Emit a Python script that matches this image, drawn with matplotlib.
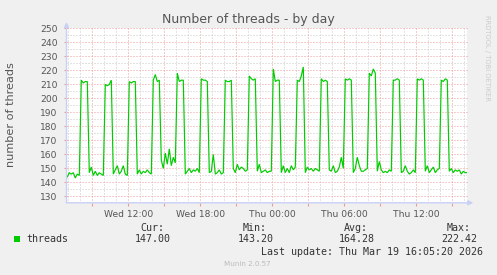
import numpy as np
import matplotlib
matplotlib.use("Agg")
import matplotlib.pyplot as plt
from matplotlib.patches import Rectangle

# ---------------- data ----------------
title = "Number of threads - by day"
y_label = "number of threads"
series_name = "threads"
series_color = "#00CC00"

start_hour = 6 + 55 / 60          # Wed 06:55, hours since Wed 00:00
step_hours = 10 / 60              # 10 minute samples

threads = [
    144, 147, 146, 147, 143.2, 146, 145,
    213, 211, 212, 212,
    147, 151, 145, 148, 145, 147, 146, 145,
    210, 209, 210, 213,
    146, 149, 152, 146, 148, 152, 146, 145,
    212, 211, 212, 212,
    146, 149, 146, 148, 147, 149, 147, 146,
    213, 217, 212, 213,
    156, 150, 161, 153, 164, 152, 158, 154,
    218, 212, 213, 213,
    146, 148, 150, 147, 149, 148, 150, 147,
    214, 213, 213, 212,
    147, 148, 160, 146, 147, 149, 146, 147,
    213, 212, 212, 213,
    150, 147, 153, 149, 151, 150, 148, 149,
    216, 214, 213, 214,
    148, 153, 147, 148, 149, 147, 148, 148,
    221, 212, 213, 213,
    147, 152, 147, 150, 147, 152, 149, 151,
    213, 212, 216, 222.42,
    147, 151, 149, 150, 148, 150, 149, 148,
    214, 212, 213, 212,
    149, 148, 152, 147, 148, 151, 158, 150,
    214, 213, 214, 213,
    147, 150, 158, 152, 148, 148, 149, 150,
    218, 216, 221, 218,
    148, 155, 149, 147, 148, 147, 149, 148,
    213, 213, 214, 213,
    147, 148, 152, 148, 146, 147, 149, 147,
    214, 213, 214, 213,
    148, 152, 147, 149, 151, 147, 149, 150,
    213, 212, 214, 213,
    148, 150, 147, 149, 148, 149, 146, 148, 147, 147,
]

x_label_hours = [12, 18, 24, 30, 36]
x_labels = ["Wed 12:00", "Wed 18:00", "Thu 00:00", "Thu 06:00", "Thu 12:00"]
y_ticks = [130, 140, 150, 160, 170, 180, 190, 200, 210, 220, 230, 240, 250]

stat_headers = ["Cur:", "Min:", "Avg:", "Max:"]
stat_values = ["147.00", "143.20", "164.28", "222.42"]
last_update = "Last update: Thu Mar 19 16:05:20 2026"
footer = "Munin 2.0.57"
side_text = "RRDTOOL / TOBI OETIKER"

# ---------------- layout ----------------
W, H = 497, 275
BG = "#F0F0F0"
FONT_C = "#555555"
AXIS_C = "#C8D0F4"
MINOR_C = "#C9C9C9"
MAJOR_C = "#EE9A9A"

fig = plt.figure(figsize=(W / 100, H / 100), dpi=100, facecolor=BG)
L, R, T, B = 66.5, 467.3, 28.3, 202.8
ax = fig.add_axes([L / W, 1 - B / H, (R - L) / W, (B - T) / H])
ax.set_facecolor("white")

times = start_hour + step_hours * np.arange(len(threads))
x_min = 12 + (L - 128.3) / 12
x_max = 12 + (R - 128.3) / 12
ax.set_xlim(x_min, x_max)
ax.set_ylim(125.5, 250)

# grid
dash = (0, (1, 2))
for h in range(7, 41):
    major = (h % 3 == 0)
    ax.axvline(h, color=MAJOR_C if major else MINOR_C, lw=0.72,
               linestyle=dash, zorder=1)
for v in range(135, 250, 10):
    ax.axhline(v, color=MINOR_C, lw=0.72, linestyle=dash, zorder=1)
for v in y_ticks:
    ax.axhline(v, color=MAJOR_C, lw=0.72, linestyle=dash, zorder=1,
               clip_on=False)

ax.plot(times, threads, color=series_color, lw=0.85, zorder=3,
        solid_joinstyle="miter")

for s in ax.spines.values():
    s.set_visible(False)

ax.set_xticks(x_label_hours)
ax.set_xticklabels(x_labels)
ax.set_xticks(list(range(9, 41, 3)), minor=True)
ax.set_yticks(y_ticks)
ax.set_yticklabels([str(v) for v in y_ticks])
ax.tick_params(axis="x", which="major", length=2, color=MAJOR_C, width=0.8,
               labelsize=6.6, labelcolor=FONT_C, pad=3)
ax.tick_params(axis="x", which="minor", length=2, color=MAJOR_C, width=0.8)
ax.tick_params(axis="y", which="major", length=2, color=MAJOR_C, width=0.8,
               labelsize=6.6, labelcolor=FONT_C, pad=4.5)

# axis lines with arrows
ax.annotate("", xy=(1.015, 0), xytext=(0, 0), xycoords="axes fraction",
            arrowprops=dict(arrowstyle="-|>", color=AXIS_C, lw=1.0,
                            mutation_scale=7, shrinkA=0, shrinkB=0))
ax.annotate("", xy=(0, 1.036), xytext=(0, 0), xycoords="axes fraction",
            arrowprops=dict(arrowstyle="-|>", color=AXIS_C, lw=1.0,
                            mutation_scale=7, shrinkA=0, shrinkB=0))

# texts
def fx(px):
    return px / W

def fy(py):
    return 1 - py / H

fig.text(fx(248), fy(19.3), title, ha="center", va="center",
         fontsize=9, color=FONT_C)
fig.text(fx(11), fy(115), y_label, rotation=90, ha="center", va="center",
         fontsize=8.1, color=FONT_C)
fig.text(fx(487.5), fy(15), side_text, rotation=270, ha="center", va="top",
         fontsize=4.9, color="#CCCCCC")

mono = "DejaVu Sans Mono"
fig.add_artist(Rectangle((fx(14), fy(242.3)), 6 / W, 6 / H,
                         transform=fig.transFigure, facecolor=series_color,
                         edgecolor="none"))
fig.text(fx(26.7), fy(239.3), series_name, ha="left", va="center",
         fontsize=7.2, family=mono, color="#333333")
head_x = [140.0, 242.7, 344.3, 446.7]
val_x = [134.3, 237.3, 339.0, 441.0]
for hx, vx, h, v in zip(head_x, val_x, stat_headers, stat_values):
    fig.text(fx(hx), fy(227.7), h, ha="left", va="center", fontsize=7.2,
             family=mono, color="#333333")
    fig.text(fx(vx), fy(239.3), v, ha="left", va="center", fontsize=7.2,
             family=mono, color="#333333")
fig.text(fx(261), fy(251.7), last_update, ha="left", va="center",
         fontsize=7.2, family=mono, color="#333333")
fig.text(fx(247.7), fy(264.3), footer, ha="center", va="center",
         fontsize=5.1, color="#BBBBBB")

fig.savefig("out.png", dpi=100, facecolor=BG)
